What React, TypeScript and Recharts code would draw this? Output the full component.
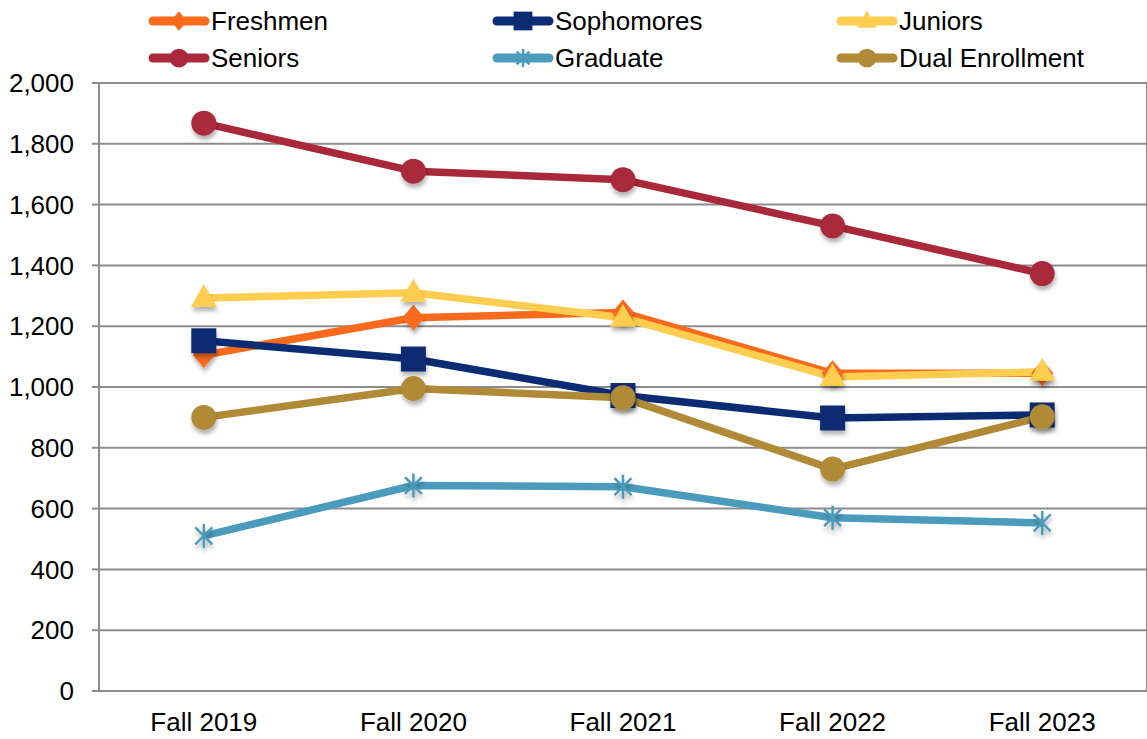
import React from "react";
import {
  LineChart,
  Line,
  XAxis,
  YAxis,
  CartesianGrid,
} from "recharts";

const categories = ["Fall 2019", "Fall 2020", "Fall 2021", "Fall 2022", "Fall 2023"];
const freshmen = [1105, 1228, 1245, 1045, 1045];
const sophomores = [1152, 1092, 972, 898, 908];
const juniors = [1293, 1310, 1228, 1033, 1050];
const seniors = [1868, 1710, 1682, 1530, 1373];
const graduate = [510, 676, 672, 570, 553];
const dual = [900, 995, 965, 730, 902];
const yTicks = [0, 200, 400, 600, 800, 1000, 1200, 1400, 1600, 1800, 2000];
const gridTicks = [-0.5, 0.5, 1.5, 2.5, 3.5, 4.5];

const FONT = '"Liberation Sans", Arial, sans-serif';

const series = [
  { key: "freshmen", name: "Freshmen", color: "#FA6A1C", marker: "diamond", values: freshmen },
  { key: "sophomores", name: "Sophomores", color: "#0B2B73", marker: "square", values: sophomores },
  { key: "juniors", name: "Juniors", color: "#FFCD50", marker: "triangle", values: juniors },
  { key: "seniors", name: "Seniors", color: "#A9293B", marker: "circle", values: seniors },
  { key: "graduate", name: "Graduate", color: "#4B9BBC", marker: "star", values: graduate },
  { key: "dual", name: "Dual Enrollment", color: "#B08A36", marker: "circle", values: dual },
];

const data = categories.map((c, i) => {
  const row: any = { idx: i, name: c };
  series.forEach((s) => (row[s.key] = s.values[i]));
  return row;
});

function Marker({ type, cx, cy, color, scale = 1, shadow = true }: any) {
  const f = shadow ? "url(#mshadow)" : undefined;
  const s = scale;
  if (type === "diamond") {
    return (
      <path
        filter={f}
        d={`M${cx},${cy - 13 * s} L${cx + 11 * s},${cy} L${cx},${cy + 13 * s} L${cx - 11 * s},${cy} Z`}
        fill={color}
      />
    );
  }
  if (type === "square") {
    return <rect filter={f} x={cx - 12.5 * s} y={cy - 12.5 * s} width={25 * s} height={25 * s} fill={color} />;
  }
  if (type === "triangle") {
    return (
      <path
        filter={f}
        d={`M${cx},${cy - 14 * s} L${cx + 13 * s},${cy + 9 * s} L${cx - 13 * s},${cy + 9 * s} Z`}
        fill={color}
      />
    );
  }
  if (type === "circle") {
    return <circle filter={f} cx={cx} cy={cy} r={12.5 * s} fill={color} />;
  }
  const r = 12 * s;
  const d = r * 0.707;
  return (
    <g stroke={color} strokeWidth={2.5} filter={f}>
      <line x1={cx} y1={cy - r} x2={cx} y2={cy + r} />
      <line x1={cx - d} y1={cy - d} x2={cx + d} y2={cy + d} />
      <line x1={cx - d} y1={cy + d} x2={cx + d} y2={cy - d} />
    </g>
  );
}

const legendCols = [148, 492, 836];

function LegendBox() {
  return (
    <div style={{ position: "absolute", left: 0, top: 0, width: 1147, height: 80 }}>
      {series.map((s, i) => {
        const col = i % 3;
        const row = Math.floor(i / 3);
        return (
          <div
            key={s.key}
            style={{
              position: "absolute",
              left: legendCols[col],
              top: row * 37 + 5,
              display: "flex",
              alignItems: "center",
              height: 32,
              fontFamily: FONT,
              fontSize: 26,
              color: "#000",
              whiteSpace: "nowrap",
            }}
          >
            <svg width={63} height={30} style={{ display: "block" }}>
              <line x1={5} y1={15} x2={57} y2={15} stroke={s.color} strokeWidth={9} strokeLinecap="round" />
              <Marker type={s.marker} cx={31} cy={15} color={s.color} scale={0.75} shadow={false} />
            </svg>
            <span>{s.name}</span>
          </div>
        );
      })}
    </div>
  );
}

export default function App() {
  return (
    <div style={{ position: "absolute", left: 0, top: 0, width: 1147, height: 739, background: "#fff" }}>
      <LineChart
        width={1147}
        height={739}
        data={data}
        margin={{ top: 83, right: 0, bottom: 0, left: 0 }}
      >
        <defs>
          <filter id="mshadow" x="-50%" y="-50%" width="200%" height="200%">
            <feDropShadow dx={1} dy={4} stdDeviation={2} floodColor="#000" floodOpacity={0.3} />
          </filter>
        </defs>
        <CartesianGrid xAxisId="grid" stroke="#8C8C8C" strokeWidth={2} vertical horizontal />
        <XAxis
          xAxisId="grid"
          type="number"
          domain={[-0.5, 4.5]}
          ticks={gridTicks}
          allowDataOverflow
          tick={false}
          tickLine={{ stroke: "#8C8C8C", strokeWidth: 2 }}
          tickSize={8}
          axisLine={false}
          height={8}
        />
        <XAxis
          dataKey="idx"
          type="number"
          domain={[-0.5, 4.5]}
          ticks={[0, 1, 2, 3, 4]}
          allowDataOverflow
          tickFormatter={(v: number) => categories[v]}
          axisLine={false}
          tickLine={false}
          tickSize={0}
          tickMargin={22}
          height={40}
          tick={{ fill: "#000", fontSize: 26, fontFamily: FONT }}
        />
        <YAxis
          domain={[0, 2000]}
          ticks={yTicks}
          width={99}
          tickFormatter={(v: number) => v.toLocaleString("en-US")}
          axisLine={{ stroke: "#8C8C8C", strokeWidth: 2 }}
          tickLine={{ stroke: "#8C8C8C", strokeWidth: 2 }}
          tickSize={7}
          tickMargin={18}
          tick={{ fill: "#000", fontSize: 26, fontFamily: FONT }}
        />
        {series.map((s) => (
          <Line
            key={s.key}
            dataKey={s.key}
            name={s.name}
            stroke={s.color}
            strokeWidth={7.5}
            strokeLinejoin="round"
            isAnimationActive={false}
            dot={(p: any) => (
              <Marker key={`${s.key}-${p.index}`} type={s.marker} cx={p.cx} cy={p.cy} color={s.color} />
            )}
            activeDot={false}
          />
        ))}
      </LineChart>
      <LegendBox />
    </div>
  );
}
